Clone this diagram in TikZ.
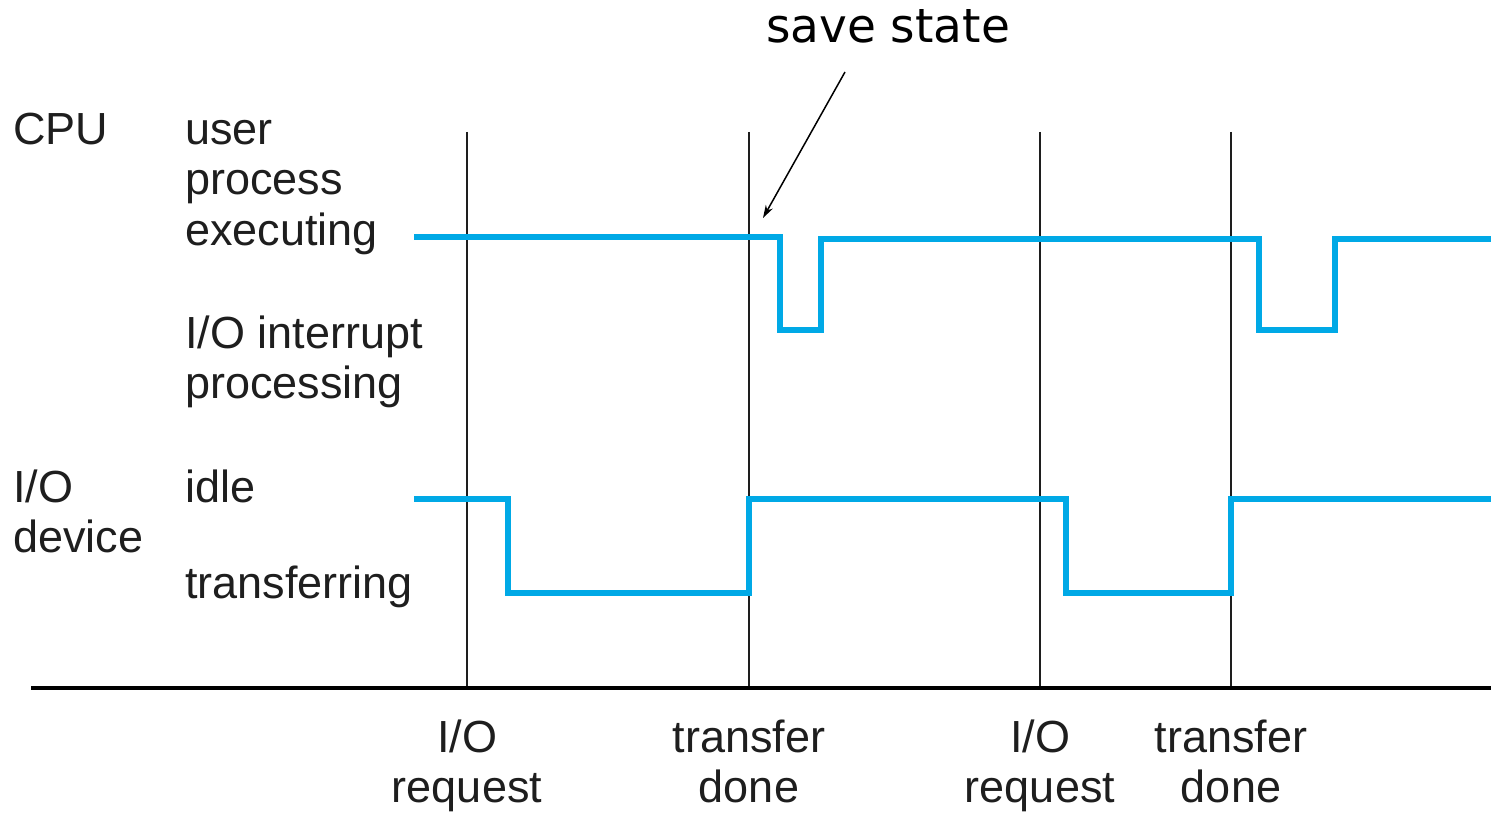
\documentclass[tikz,border=0pt]{standalone}
\usepackage{fontspec}
\setmainfont{Liberation Sans}
\newfontfamily\verdanafont{DejaVu Sans}
\usetikzlibrary{arrows.meta}
\definecolor{sigblue}{RGB}{0,169,230}
\definecolor{ink}{RGB}{30,30,30}
\begin{document}
\begin{tikzpicture}[x=1pt,y=-1pt,
  lbl/.style={anchor=base west,inner sep=0pt,text=ink,font=\fontsize{45}{51}\selectfont},
  clbl/.style={anchor=base,inner sep=0pt,text=ink,font=\fontsize{45}{51}\selectfont},
  signal/.style={draw=sigblue,line width=6pt,line join=miter},
  tick/.style={draw=ink,line width=2pt},
  axisline/.style={draw=black,line width=4pt}]
\useasboundingbox (0,0) rectangle (1491,813);
% vertical event lines
\coordinate (t1top) at (467,132); \coordinate (t1bot) at (467,688);
\coordinate (t2top) at (749,132); \coordinate (t2bot) at (749,688);
\coordinate (t3top) at (1040,132); \coordinate (t3bot) at (1040,688);
\coordinate (t4top) at (1231,132); \coordinate (t4bot) at (1231,688);
\draw[tick] (t1top) -- (t1bot);
\draw[tick] (t2top) -- (t2bot);
\draw[tick] (t3top) -- (t3bot);
\draw[tick] (t4top) -- (t4bot);
% time axis
\coordinate (axL) at (31,688); \coordinate (axR) at (1491,688);
\draw[axisline] (axL) -- (axR);
% CPU signal
\coordinate (cpuS) at (414,237); \coordinate (cpuE) at (1491,239);
\draw[signal] (cpuS) -- (780,237) -- (780,330) -- (821,330) -- (821,239)
  -- (1259,239) -- (1259,330) -- (1335,330) -- (1335,239) -- (cpuE);
% I/O signal
\coordinate (ioS) at (414,499); \coordinate (ioE) at (1491,499);
\draw[signal] (ioS) -- (508,499) -- (508,593) -- (749,593) -- (749,499)
  -- (1066,499) -- (1066,593) -- (1231,593) -- (1231,499) -- (ioE);
% left labels
\node[lbl] (cpu) at (13,145) {CPU};
\node[lbl] (user1) at (185,145) {user};
\node[lbl] (user2) at (185,195) {process};
\node[lbl] (user3) at (185,245) {executing};
\node[lbl] (int1) at (185,348) {I/O interrupt};
\node[lbl] (int2) at (185,398) {processing};
\node[lbl] (dev1) at (13,502) {I/O};
\node[lbl] (dev2) at (13,552) {device};
\node[lbl] (idle) at (185,502) {idle};
\node[lbl] (xfer) at (185,598) {transferring};
% bottom labels
\node[clbl] (b1a) at (467,752) {I/O};
\node[clbl] (b1b) at (467,802) {request};
\node[clbl] (b2a) at (749,752) {transfer};
\node[clbl] (b2b) at (749,802) {done};
\node[clbl] (b3a) at (1040,752) {I/O};
\node[clbl] (b3b) at (1040,802) {request};
\node[clbl] (b4a) at (1231,752) {transfer};
\node[clbl] (b4b) at (1231,802) {done};
% save state annotation
\node[anchor=base,inner sep=0pt,text=black,font=\verdanafont\fontsize{47}{52}\selectfont] (save) at (888,43) {save state};
\coordinate (arrS) at (845,72);
\coordinate (arrE) at (763,218);
\draw[black,line width=1.5pt,-{Stealth[length=13pt,width=8pt]}] (arrS) -- (arrE);
\end{tikzpicture}
\end{document}
